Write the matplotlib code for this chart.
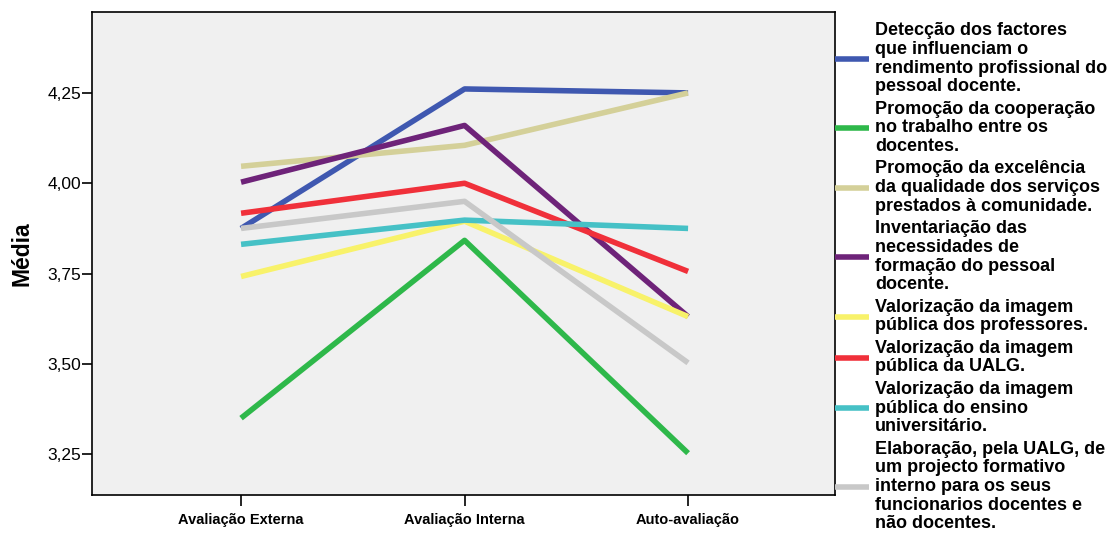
import matplotlib
matplotlib.use("Agg")

import matplotlib.pyplot as plt
from matplotlib.ticker import FuncFormatter

plt.rcParams["font.family"] = ["Liberation Sans", "DejaVu Sans"]

categories = ["Avaliação Externa", "Avaliação Interna", "Auto-avaliação"]

labels = [
    "Detecção dos factores\nque influenciam o\nrendimento profissional do\npessoal docente.",
    "Promoção da cooperação\nno trabalho entre os\ndocentes.",
    "Promoção da excelência\nda qualidade dos serviços\nprestados à comunidade.",
    "Inventariação das\nnecessidades de\nformação do pessoal\ndocente.",
    "Valorização da imagem\npública dos professores.",
    "Valorização da imagem\npública da UALG.",
    "Valorização da imagem\npública do ensino\nuniversitário.",
    "Elaboração, pela UALG, de\num projecto formativo\ninterno para os seus\nfuncionarios docentes e\nnão docentes.",
]

deteccao = [3.875, 4.261, 4.250]
cooperacao = [3.350, 3.842, 3.253]
excelencia = [4.047, 4.105, 4.250]
inventariacao = [4.003, 4.160, 3.631]
img_professores = [3.742, 3.895, 3.631]
img_ualg = [3.917, 4.000, 3.756]
img_ensino = [3.831, 3.898, 3.875]
projecto = [3.875, 3.950, 3.503]

series = [deteccao, cooperacao, excelencia, inventariacao,
          img_professores, img_ualg, img_ensino, projecto]
colors = ["#3f58b0", "#2eb84a", "#d4d099", "#6e2379",
          "#f8f26a", "#f0303a", "#46c1c6", "#c8c8c8"]

fig = plt.figure(figsize=(11.15, 5.37), dpi=100)
ax = fig.add_axes([0.0825, 0.078, 0.6665, 0.8997])
ax.set_facecolor("#f0f0f0")

x = list(range(len(categories)))
for vals, col, lab in zip(series, colors, labels):
    ax.plot(x, vals, color=col, lw=4, label=lab, solid_capstyle="butt")

ax.set_xlim(-0.667, 2.658)
ax.set_ylim(3.137, 4.474)
ax.set_xticks(x)
ax.set_xticklabels(categories, fontsize=10.5, fontweight="bold")
ax.set_yticks([3.25, 3.50, 3.75, 4.00, 4.25])
ax.yaxis.set_major_formatter(FuncFormatter(lambda v, p: f"{v:.2f}".replace(".", ",")))
ax.tick_params(axis="y", direction="out", length=7, width=1.2, labelsize=12.5, pad=1)
ax.tick_params(axis="x", direction="out", length=8, width=1.2, pad=5)
for s in ax.spines.values():
    s.set_linewidth(1.2)
ax.set_ylabel("Média", fontsize=16.5, fontweight="bold", labelpad=10)

leg = ax.legend(loc="upper left", bbox_to_anchor=(1.0, 0.979), frameon=False,
                prop={"size": 13, "weight": "bold"}, handlelength=1.9,
                handletextpad=0.3, labelspacing=0.3, borderaxespad=0.0,
                borderpad=0.0)
for h in leg.get_lines():
    h.set_linewidth(4)
for t in leg.get_texts():
    t.set_linespacing(1.13)

fig.savefig("out.png", dpi=100)
